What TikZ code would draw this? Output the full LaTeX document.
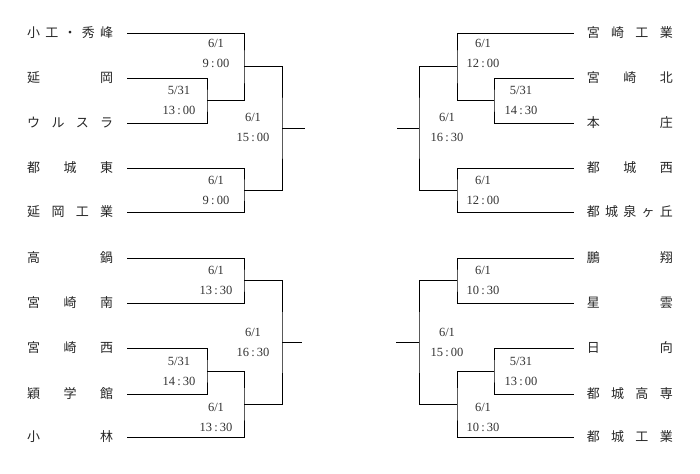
\documentclass[tikz,border=0pt]{standalone}
\usepackage{fontspec}
\setmainfont{Liberation Serif}
\newfontfamily\jpfont{Noto Sans CJK JP}
\newcommand\spread[1]{\makebox[86pt][s]{#1}}
\newcommand\tm[2]{#1\hspace{2.2pt}:\hspace{2.2pt}#2}
\begin{document}
\begin{tikzpicture}[x=1pt,y=-1pt,
  team/.style={inner sep=0pt, font=\jpfont\fontsize{13}{13}\selectfont, text=black!85},
  lbl/.style={align=center, inner sep=0pt, font=\fontsize{12.5}{20}\selectfont, text=black!80},
  wire/.style={line width=0.8pt, black}]
\useasboundingbox[fill=white] (0,0) rectangle (700,473);

% ---------------- left teams
\node[team,anchor=west] (n1) at (27,33)  {\spread{小\hfill 工\hfill ・\hfill 秀\hfill 峰}};
\node[team,anchor=west] (n2) at (27,78)  {\spread{延\hfill 岡}};
\node[team,anchor=west] (n3) at (27,123) {\spread{ウ\hfill ル\hfill ス\hfill ラ}};
\node[team,anchor=west] (n4) at (27,168) {\spread{都\hfill 城\hfill 東}};
\node[team,anchor=west] (n5) at (27,212) {\spread{延\hfill 岡\hfill 工\hfill 業}};
\node[team,anchor=west] (n6) at (27,258) {\spread{高\hfill 鍋}};
\node[team,anchor=west] (n7) at (27,303) {\spread{宮\hfill 崎\hfill 南}};
\node[team,anchor=west] (n8) at (27,348) {\spread{宮\hfill 崎\hfill 西}};
\node[team,anchor=west] (n9) at (27,394) {\spread{穎\hfill 学\hfill 館}};
\node[team,anchor=west] (n10) at (27,437) {\spread{小\hfill 林}};

% ---------------- right teams
\node[team,anchor=east] (r1) at (673,33)  {\spread{宮\hfill 崎\hfill 工\hfill 業}};
\node[team,anchor=east] (r2) at (673,78)  {\spread{宮\hfill 崎\hfill 北}};
\node[team,anchor=east] (r3) at (673,123) {\spread{本\hfill 庄}};
\node[team,anchor=east] (r4) at (673,168) {\spread{都\hfill 城\hfill 西}};
\node[team,anchor=east] (r5) at (673,212) {\spread{都\hfill 城\hfill 泉\hfill ヶ\hfill 丘}};
\node[team,anchor=east] (r6) at (673,258) {\spread{鵬\hfill 翔}};
\node[team,anchor=east] (r7) at (673,303) {\spread{星\hfill 雲}};
\node[team,anchor=east] (r8) at (673,348) {\spread{日\hfill 向}};
\node[team,anchor=east] (r9) at (673,394) {\spread{都\hfill 城\hfill 高\hfill 専}};
\node[team,anchor=east] (r10) at (673,437) {\spread{都\hfill 城\hfill 工\hfill 業}};

% ---------------- match points
\coordinate (mA) at (207,100.5);
\coordinate (mB) at (244,66.5);
\coordinate (mC) at (244,190);
\coordinate (mD) at (282,128);
\coordinate (sL1) at (305,128);
\coordinate (mE) at (244,280.5);
\coordinate (mF) at (207,371);
\coordinate (mG) at (244,404);
\coordinate (mH) at (282,342.5);
\coordinate (sL2) at (302,342.5);

\coordinate (rA) at (494,100.5);
\coordinate (rB) at (457,66.5);
\coordinate (rC) at (457,190);
\coordinate (rD) at (419,128);
\coordinate (sR1) at (397,128);
\coordinate (rE) at (457,280.5);
\coordinate (rF) at (494,371);
\coordinate (rG) at (457,404);
\coordinate (rH) at (419,342.5);
\coordinate (sR2) at (396,342.5);

% ---------------- left wires
\draw[wire] ([xshift=14pt]n2.east) -| (mA) |- ([xshift=14pt]n3.east);
\draw[wire] ([xshift=14pt]n1.east) -| (mB) |- (mA);
\draw[wire] ([xshift=14pt]n4.east) -| (mC) |- ([xshift=14pt]n5.east);
\draw[wire] (mB) -| (mD) |- (mC);
\draw[wire] (mD) -- (sL1);
\draw[wire] ([xshift=14pt]n6.east) -| (mE) |- ([xshift=14pt]n7.east);
\draw[wire] ([xshift=14pt]n8.east) -| (mF) |- ([xshift=14pt]n9.east);
\draw[wire] (mF) -| (mG) |- ([xshift=14pt]n10.east);
\draw[wire] (mE) -| (mH) |- (mG);
\draw[wire] (mH) -- (sL2);

% ---------------- right wires
\draw[wire] ([xshift=-13pt]r2.west) -| (rA) |- ([xshift=-13pt]r3.west);
\draw[wire] ([xshift=-13pt]r1.west) -| (rB) |- (rA);
\draw[wire] ([xshift=-13pt]r4.west) -| (rC) |- ([xshift=-13pt]r5.west);
\draw[wire] (rB) -| (rD) |- (rC);
\draw[wire] (rD) -- (sR1);
\draw[wire] ([xshift=-13pt]r6.west) -| (rE) |- ([xshift=-13pt]r7.west);
\draw[wire] ([xshift=-13pt]r8.west) -| (rF) |- ([xshift=-13pt]r9.west);
\draw[wire] (rF) -| (rG) |- ([xshift=-13pt]r10.west);
\draw[wire] (rE) -| (rH) |- (rG);
\draw[wire] (rH) -- (sR2);

% ---------------- labels left
\node[lbl] (lB) at (216,53)    {6/1\\\tm{9}{00}};
\node[lbl] (lA) at (179,100)   {5/31\\\tm{13}{00}};
\node[lbl] (lD) at (253,127.5) {6/1\\\tm{15}{00}};
\node[lbl] (lC) at (216,190)   {6/1\\\tm{9}{00}};
\node[lbl] (lE) at (216,280)   {6/1\\\tm{13}{30}};
\node[lbl] (lF) at (179,371)   {5/31\\\tm{14}{30}};
\node[lbl] (lH) at (253,342.5) {6/1\\\tm{16}{30}};
\node[lbl] (lG) at (216,417)   {6/1\\\tm{13}{30}};

% ---------------- labels right
\node[lbl] (kB) at (483,53)    {6/1\\\tm{12}{00}};
\node[lbl] (kA) at (521,100)   {5/31\\\tm{14}{30}};
\node[lbl] (kD) at (447,127.5) {6/1\\\tm{16}{30}};
\node[lbl] (kC) at (483,190)   {6/1\\\tm{12}{00}};
\node[lbl] (kE) at (483,280)   {6/1\\\tm{10}{30}};
\node[lbl] (kF) at (521,371)   {5/31\\\tm{13}{00}};
\node[lbl] (kH) at (447,342.5) {6/1\\\tm{15}{00}};
\node[lbl] (kG) at (483,417)   {6/1\\\tm{10}{30}};
\end{tikzpicture}
\end{document}
